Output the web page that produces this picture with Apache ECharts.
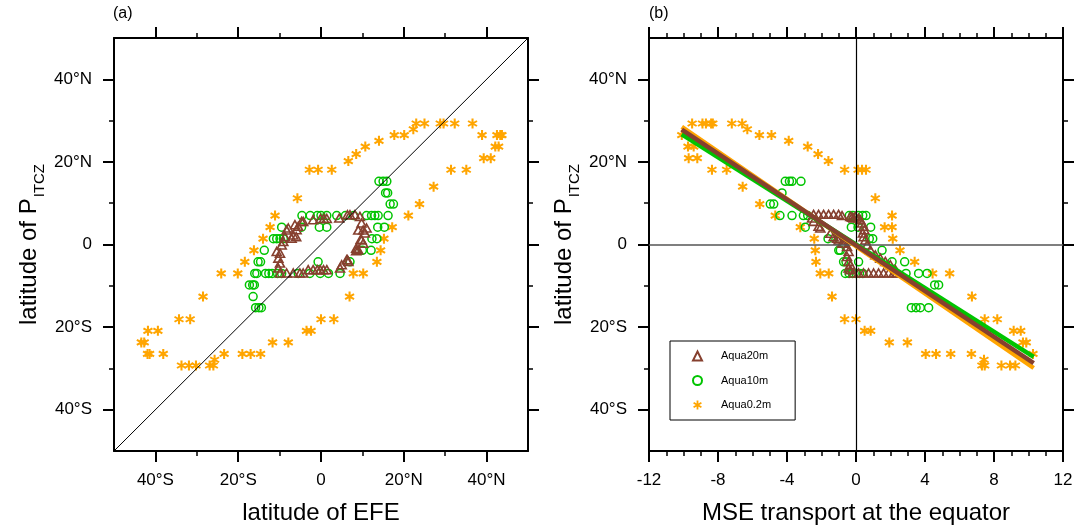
<!DOCTYPE html>
<html>
<head>
<meta charset="utf-8">
<script src="https://cdn.jsdelivr.net/npm/echarts@6/dist/echarts.min.js"></script>
<style>
  html, body { margin: 0; padding: 0; background: #fff; }
  #chart { width: 1089px; height: 531px; }
</style>
</head>
<body>
<div id="chart"></div>
<script>
// ---- tick positions and labels ----
const latMajor = [-40, -20, 0, 20, 40];
const latMinor = [-30, -10, 10, 30];
const latLabels = ['40°S', '20°S', '0', '20°N', '40°N'];
const mseMajor = [-12, -8, -4, 0, 4, 8, 12];
const mseMinor = [-11, -10, -9, -7, -6, -5, -3, -2, -1, 1, 2, 3, 5, 6, 7, 9, 10, 11];
const mseLabels = ['-12', '-8', '-4', '0', '4', '8', '12'];
const latRange = [-50, 50];
const mseRange = [-12, 12];

const seriesNames = ['Aqua20m', 'Aqua10m', 'Aqua0.2m'];

// ---- panel (a): [latitude of EFE, latitude of P_ITCZ] ----
const efeAqua20m = [
  [-1.9, 6.0], [-0.1, 6.3], [0.7, 6.3], [1.4, 6.3], [4.4, 6.4], [6.4, 7.2], [7.0, 7.2], [8.2, 7.2], [9.4, 6.8],
  [9.8, 5.2], [9.0, 3.5], [10.2, 3.5], [11.0, 4.0], [10.6, 2.8], [9.6, 1.3], [9.8, 1.1], [10.2, 0.3],
  [9.0, -1.3], [8.5, -0.9], [8.5, -1.5], [6.4, -3.7], [6.2, -3.7], [6.6, -4.1], [5.0, -4.9], [4.6, -5.7],
  [-9.9, -6.9], [-8.3, -6.9], [-6.7, -6.9], [-5.1, -6.9], [-4.3, -6.9], [-3.1, -6.1], [-1.9, -6.1],
  [-0.9, -6.1], [-0.2, -6.1], [0.6, -6.1], [1.4, -6.1],
  [-10.3, -5.7], [-9.9, -4.5], [-10.3, -3.3], [-9.9, -2.1], [-10.7, -1.7], [-9.5, -0.1], [-9.1, 0.7],
  [-8.7, 1.9], [-7.1, 1.5], [-6.7, 2.3], [-5.9, 3.6], [-5.5, 4.4], [-4.7, 5.6], [-7.9, 4.0], [-8.3, 3.5],
  [-6.0, 1.9], [-6.3, 4.8], [-4.3, 5.6]
];
const efeAqua10m = [
  [14.0, 15.3], [15.0, 15.3], [15.9, 15.3],
  [15.6, 12.5], [16.1, 12.5],
  [16.7, 9.8], [17.5, 9.8],
  [-4.6, 7.0], [-2.6, 7.0], [-0.9, 7.0], [0.0, 7.0], [1.4, 7.0], [3.8, 7.0], [5.9, 7.0], [7.9, 7.0],
  [11.0, 7.0], [12.2, 7.0], [13.0, 7.0], [13.8, 7.0], [16.2, 7.0],
  [-9.5, 4.2], [-4.7, 4.2], [-0.4, 4.2], [1.4, 4.2], [13.7, 4.2], [15.3, 4.2],
  [-11.5, 1.4], [-10.7, 1.4], [-9.9, 1.4], [-9.1, 1.4], [12.3, 1.4], [13.5, 1.4],
  [-13.7, -1.4], [10.0, -1.4], [12.1, -1.4],
  [-15.2, -4.2], [-14.6, -4.2], [-0.7, -4.2], [7.0, -4.2],
  [-16.0, -7.0], [-15.5, -7.0], [-13.4, -7.0], [-12.6, -7.0], [-11.8, -7.0], [-10.5, -7.0], [-9.5, -7.0],
  [-5.5, -7.0], [-2.7, -7.0], [-0.2, -7.0], [1.8, -7.0], [4.6, -7.0],
  [-17.3, -9.8], [-16.5, -9.8], [-16.1, -9.8],
  [-16.4, -12.6],
  [-15.8, -15.3], [-15.0, -15.3], [-14.4, -15.3]
];
const efeAqua02m = [
  [23.0, 29.3], [25.0, 29.3], [28.8, 29.3], [29.6, 29.3], [32.3, 29.3], [36.6, 29.3],
  [22.3, 27.9],
  [17.7, 26.5], [20.1, 26.5], [38.9, 26.5], [42.5, 26.5], [43.3, 26.5], [43.7, 26.5],
  [14.0, 25.1],
  [10.7, 23.7], [42.1, 23.7], [42.9, 23.7],
  [8.5, 21.9],
  [6.6, 20.2],
  [39.3, 20.9], [41.0, 20.9],
  [-2.8, 18.1], [-0.7, 18.1], [2.6, 18.1], [31.4, 18.1], [35.1, 18.1],
  [27.2, 14.0],
  [-5.7, 11.2],
  [23.8, 9.8],
  [-11.1, 7.0], [21.1, 7.0],
  [-12.3, 4.2], [17.2, 4.2],
  [-14.0, 1.4], [15.2, 1.4],
  [-16.2, -1.4], [14.4, -1.4],
  [-18.4, -4.2], [13.5, -4.2],
  [-24.1, -7.0], [-20.1, -7.0], [7.8, -7.0], [10.2, -7.0],
  [-28.5, -12.6], [6.9, -12.6],
  [-34.3, -18.1], [-31.6, -18.1], [0.0, -18.1], [3.1, -18.1],
  [-41.8, -20.9], [-39.4, -20.9], [-3.5, -20.9], [-2.4, -20.9],
  [-43.4, -23.7], [-42.7, -23.7], [-11.7, -23.7], [-7.9, -23.7],
  [-41.9, -26.5], [-41.4, -26.5], [-38.1, -26.5], [-23.4, -26.5], [-19.0, -26.5], [-17.0, -26.5], [-14.6, -26.5],
  [-25.7, -27.9],
  [-33.7, -29.3], [-31.9, -29.3], [-30.2, -29.3], [-26.9, -29.3], [-26.0, -29.3]
];
// one-to-one reference line EFE = P_ITCZ
const diagonal = [[-50, -50], [50, 50]];

// ---- panel (b): [MSE transport at the equator, latitude of P_ITCZ] ----
const mseAqua20m = [
  [-2.46, 7.3], [-2.17, 7.3], [-1.88, 7.3], [-1.59, 7.3], [-1.30, 7.3], [-1.01, 7.3], [-0.81, 7.0],
  [-0.33, 6.8], [-0.23, 6.6], [-0.14, 6.4],
  [-2.55, 6.4], [-2.46, 5.6], [-2.17, 4.4], [-2.07, 4.0],
  [-1.49, 2.7], [-1.30, 1.9], [-1.10, 1.5], [-1.01, 1.1], [-0.81, 0.3], [-0.72, 0.3], [-0.52, -0.5],
  [-0.43, -1.7], [-0.52, -2.9], [-0.43, -4.1], [-0.33, -4.9], [-0.43, -5.7], [-0.33, -6.1],
  [-0.14, -6.9], [0.15, -6.9], [0.44, -6.9], [0.73, -6.9], [1.02, -6.9], [1.31, -6.9], [1.60, -6.9],
  [1.89, -6.9], [2.18, -6.9], [2.38, -6.9],
  [2.28, -6.1], [1.99, -4.9], [1.70, -4.1], [1.41, -3.3], [1.12, -2.5], [0.83, -1.3], [0.64, -0.1],
  [0.54, 1.1], [0.44, 1.9], [0.40, 2.8], [0.48, 3.6], [0.44, 4.4], [0.35, 5.2], [0.25, 6.0],
  [0.15, 6.4], [-0.04, 6.8]
];
const mseAqua10m = [
  [-4.10, 15.3], [-3.86, 15.3], [-3.71, 15.3], [-3.19, 15.3],
  [-4.29, 12.5],
  [-4.97, 9.8], [-4.77, 9.8],
  [-4.41, 7.0], [-3.71, 7.0], [-3.05, 7.0], [-2.80, 7.0], [-0.39, 7.0], [-0.19, 7.0], [0.15, 7.0],
  [0.39, 7.0], [0.58, 7.0],
  [-2.94, 4.2], [-0.27, 4.2], [0.12, 4.2], [0.85, 4.2],
  [-1.62, 1.4], [-0.97, 1.4], [0.77, 1.4], [0.97, 1.4],
  [-1.0, -1.4], [-0.91, -1.4], [1.51, -1.4],
  [-0.72, -4.2], [-0.58, -4.2], [0.15, -4.2], [2.09, -4.2], [2.82, -4.2],
  [-0.62, -7.0], [-0.4, -7.0], [-0.2, -7.0], [0.0, -7.0], [0.2, -7.0], [0.4, -7.0],
  [2.90, -7.0], [3.63, -7.0], [4.12, -7.0],
  [4.56, -9.8], [4.79, -9.8],
  [3.21, -15.3], [3.48, -15.3], [3.73, -15.3], [4.21, -15.3]
];
const mseAqua02m = [
  [-10.1, 26.5],
  [-9.5, 29.3], [-8.9, 29.3], [-8.7, 29.3], [-8.4, 29.3], [-8.3, 29.3], [-7.2, 29.3], [-6.6, 29.3],
  [-6.3, 27.9],
  [-5.6, 26.5], [-4.9, 26.5],
  [-3.9, 25.1],
  [-2.8, 23.7],
  [-2.2, 21.9],
  [-1.6, 20.2],
  [-0.66, 18.1], [0.12, 18.1], [0.35, 18.1], [0.58, 18.1],
  [1.12, 11.2],
  [2.09, 7.0],
  [1.66, 4.2], [2.09, 4.2],
  [2.13, 1.4],
  [2.55, -1.4],
  [3.40, -4.2],
  [4.44, -7.0], [5.43, -7.0],
  [6.72, -12.6],
  [7.46, -18.1], [8.19, -18.1],
  [9.14, -20.9], [9.55, -20.9],
  [9.68, -23.7], [9.87, -23.7],
  [10.26, -26.5],
  [4.04, -26.5], [4.64, -26.5], [5.49, -26.5], [6.69, -26.5],
  [7.42, -27.9],
  [7.30, -29.3], [7.46, -29.3], [8.43, -29.3], [8.93, -29.3], [9.24, -29.3],
  [1.93, -23.7], [2.98, -23.7],
  [0.5, -20.9], [0.85, -20.9],
  [-0.66, -18.1], [0.0, -18.1],
  [-1.39, -12.6],
  [-2.07, -7.0], [-1.58, -7.0],
  [-2.32, -4.2],
  [-2.36, -1.4],
  [-2.42, 1.4],
  [-3.23, 4.2],
  [-4.68, 7.0],
  [-5.58, 9.8],
  [-6.57, 14.0],
  [-8.35, 18.1], [-7.5, 18.1],
  [-9.7, 20.9], [-9.2, 20.9],
  [-9.74, 23.7], [-9.41, 23.7]
];
// least-squares fit lines, end points [MSE, latitude]
const fitAqua20m = [[-10.1, 27.8], [10.3, -28.7]];
const fitAqua10m = [[-10.1, 26.7], [10.3, -27.2]];
const fitAqua02m = [[-10.1, 28.5], [10.3, -29.9]];

// ---- styling ----
const FONT = 'Liberation Sans, Arial, Helvetica, sans-serif';
const BROWN = '#86402f';
const GREEN = '#00c400';
const ORANGE = '#ffa500';
// six-armed asterisk marker
const STAR = 'path://M-20,100 L20,100 L20,-100 L-20,-100 Z M77,67 L97,33 L-77,-67 L-97,-33 Z M-97,33 L-77,67 L97,-33 L77,-67 Z';

function labelFrom(ticks, labels) {
  return function (v) {
    const i = ticks.findIndex(t => Math.abs(t - v) < 1e-6);
    return i >= 0 ? labels[i] : '';
  };
}

// two axes per side: major ticks (carrying the frame line) + minor ticks
function sideAxes(gridIndex, range, major, minor, labels, positions, name, nameGap, isY) {
  const axes = [];
  positions.forEach((pos, k) => {
    const primary = k === 0;
    const base = {
      type: 'value', gridIndex: gridIndex, position: pos,
      min: range[0], max: range[1],
      splitLine: { show: false }
    };
    axes.push(Object.assign({}, base, {
      axisLine: { show: true, onZero: false, lineStyle: { color: '#000', width: 2 } },
      axisTick: { show: true, inside: false, length: 11, customValues: major,
                  lineStyle: { color: '#000', width: 2 } },
      axisLabel: primary ? {
        show: true, customValues: major, formatter: labelFrom(major, labels),
        margin: isY ? 22 : 21, color: '#000', fontFamily: FONT, fontSize: 17
      } : { show: false },
      name: primary ? name : '',
      nameLocation: 'middle',
      nameGap: nameGap,
      nameRotate: isY ? 90 : 0,
      nameTextStyle: {
        color: '#000', fontFamily: FONT, fontSize: 24,
        rich: {
          m: { fontFamily: FONT, fontSize: 24, color: '#000', lineHeight: 30, verticalAlign: 'top' },
          s: { fontFamily: FONT, fontSize: 15, color: '#000', lineHeight: 15, padding: [15, 0, 0, 1], verticalAlign: 'top' }
        }
      }
    }));
    axes.push(Object.assign({}, base, {
      axisLine: { show: false, onZero: false },
      axisTick: { show: true, inside: false, length: 5, customValues: minor,
                  lineStyle: { color: '#000', width: 1.5 } },
      axisLabel: { show: false }
    }));
  });
  return axes;
}

const yName = '{m|latitude of P}{s|ITCZ}';

const xAxes = [].concat(
  sideAxes(0, latRange, latMajor, latMinor, latLabels, ['bottom', 'top'], 'latitude of EFE', 50, false),
  sideAxes(1, mseRange, mseMajor, mseMinor, mseLabels, ['bottom', 'top'], 'MSE transport at the equator', 50, false)
);
const yAxes = [].concat(
  sideAxes(0, latRange, latMajor, latMinor, latLabels, ['left', 'right'], yName, 67, true),
  sideAxes(1, latRange, latMajor, latMinor, latLabels, ['left', 'right'], yName, 67, true)
);

function scatter(name, data, axisIdx, kind, z) {
  const s = {
    name: name, type: 'scatter', data: data,
    xAxisIndex: axisIdx, yAxisIndex: axisIdx, z: z,
    silent: true
  };
  if (kind === 'tri') {
    Object.assign(s, { symbol: 'triangle', symbolSize: [9, 8],
      itemStyle: { color: 'rgba(0,0,0,0)', borderColor: BROWN, borderWidth: 1.6, opacity: 1 } });
  } else if (kind === 'circ') {
    Object.assign(s, { symbol: 'circle', symbolSize: 8,
      itemStyle: { color: 'rgba(0,0,0,0)', borderColor: GREEN, borderWidth: 1.5, opacity: 1 } });
  } else {
    Object.assign(s, { symbol: STAR, symbolSize: [10, 10],
      itemStyle: { color: ORANGE, opacity: 1 } });
  }
  return s;
}

function fitLine(data, color, z) {
  return {
    type: 'line', data: data, xAxisIndex: 4, yAxisIndex: 4, z: z,
    showSymbol: false, symbol: 'none', silent: true,
    lineStyle: { color: color, width: 4.5 }
  };
}

const series = [
  scatter(seriesNames[2], efeAqua02m, 0, 'star', 2),
  scatter(seriesNames[1], efeAqua10m, 0, 'circ', 3),
  scatter(seriesNames[0], efeAqua20m, 0, 'tri', 4),
  {
    type: 'line', data: diagonal, xAxisIndex: 0, yAxisIndex: 0, z: 5,
    symbol: 'none', silent: true, lineStyle: { color: '#000', width: 1 }
  },
  Object.assign(scatter(seriesNames[2], mseAqua02m, 4, 'star', 2), {
    markLine: {
      silent: true, symbol: 'none', label: { show: false },
      lineStyle: { color: '#000', width: 1.2, type: 'solid' },
      data: [{ xAxis: 0 }, { yAxis: 0, lineStyle: { color: '#555', width: 1.5 } }]
    }
  }),
  scatter(seriesNames[1], mseAqua10m, 4, 'circ', 3),
  scatter(seriesNames[0], mseAqua20m, 4, 'tri', 4),
  fitLine(fitAqua02m, ORANGE, 6),
  fitLine(fitAqua10m, GREEN, 7),
  fitLine(fitAqua20m, BROWN, 8)
];

const chart = echarts.init(document.getElementById('chart'), null, { renderer: 'canvas' });
chart.setOption({
  backgroundColor: '#fff',
  animation: false,
  textStyle: { fontFamily: FONT },
  grid: [
    { left: 114, top: 38, width: 414, height: 413, containLabel: false },
    { left: 649, top: 38, width: 414, height: 413, containLabel: false }
  ],
  xAxis: xAxes,
  yAxis: yAxes,
  legend: {
    data: seriesNames,
    orient: 'vertical',
    left: 670, top: 341,
    padding: [8, 24, 8, 22],
    itemGap: 10.5,
    itemWidth: 9, itemHeight: 9,
    borderColor: '#000', borderWidth: 1, borderRadius: 0,
    backgroundColor: '#fff',
    selectedMode: false,
    textStyle: { fontFamily: FONT, fontSize: 11, color: '#000', lineHeight: 14, padding: [0, 0, 0, 14] }
  },
  graphic: [
    { type: 'text', left: 113, top: 6, style: { text: '(a)', font: '16px ' + FONT, fill: '#000' } },
    { type: 'text', left: 649, top: 6, style: { text: '(b)', font: '16px ' + FONT, fill: '#000' } }
  ],
  series: series
});
</script>
</body>
</html>
